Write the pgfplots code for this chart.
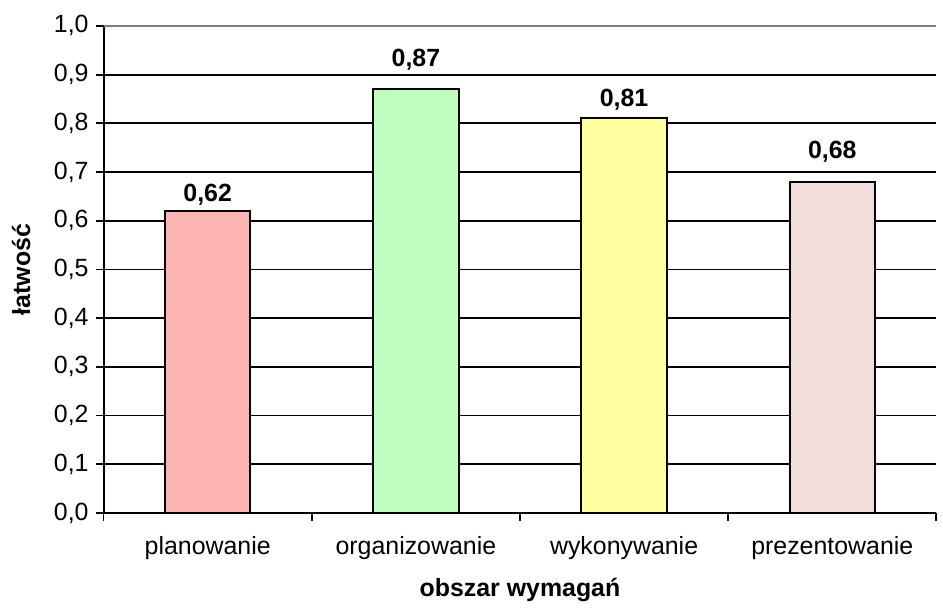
\documentclass[border=0pt]{standalone}
\usepackage{pgfplots}
\pgfplotsset{compat=1.18}
\usepackage{fontspec}
\setmainfont{Liberation Sans}
\definecolor{c1}{RGB}{255,180,180}
\definecolor{c2}{RGB}{190,255,190}
\definecolor{c3}{RGB}{255,255,160}
\definecolor{c4}{RGB}{242,220,220}
\begin{document}
\begin{tikzpicture}
\begin{axis}[
  scale only axis,
  width=418pt, height=244.5pt,
  xmin=-0.5, xmax=3.5, ymin=0, ymax=1.0,
  axis lines=left,
  axis line style={-, line width=1pt, black},
  ytick={0,0.1,...,1.01},
  yticklabel style={/pgf/number format/use comma, /pgf/number format/fixed, /pgf/number format/fixed zerofill, /pgf/number format/precision=1},
  /pgf/number format/assume math mode=true,
  ymajorgrids,
  grid style={black, line width=0.9pt},
  tick align=outside,
  major tick length=4pt,
  tick style={black, line width=0.9pt},
  xtick={-0.5,0.5,1.5,2.5,3.5},
  xticklabels={},
  extra x ticks={0,1,2,3},
  extra x tick labels={planowanie,organizowanie,wykonywanie,prezentowanie},
  extra x tick style={major tick length=0pt, grid=none, xticklabel style={yshift=-8pt}},
  ticklabel style={font=\fontsize{12.5}{14}\selectfont},
  xlabel={obszar wymagań},
  ylabel={łatwość},
  label style={font=\fontsize{12.5}{14}\selectfont\bfseries},
  xlabel style={yshift=1.5pt},
  ylabel style={yshift=5pt},
  ybar, bar width=0.41,
  nodes near coords,
  nodes near coords style={/pgf/number format/use comma, /pgf/number format/fixed, /pgf/number format/fixed zerofill, /pgf/number format/precision=2, /pgf/number format/assume math mode=true, font=\fontsize{12.5}{14}\selectfont\bfseries},
  clip=false,
]
\addplot[fill=c1, draw=black, line width=1pt, bar shift=0pt, every node near coord/.append style={yshift=-1pt}] coordinates {(0,0.62)};
\addplot[fill=c2, draw=black, line width=1pt, bar shift=0pt, every node near coord/.append style={yshift=5.5pt}] coordinates {(1,0.87)};
\addplot[fill=c3, draw=black, line width=1pt, bar shift=0pt, every node near coord/.append style={yshift=0pt}] coordinates {(2,0.81)};
\addplot[fill=c4, draw=black, line width=1pt, bar shift=0pt, every node near coord/.append style={yshift=6pt}] coordinates {(3,0.68)};
\draw[gray, line width=1pt] (axis cs:-0.5,1) -- (axis cs:3.5,1);
\path (rel axis cs:0,0) ++(-52pt,-47pt);
\path (rel axis cs:1,1) ++(1.5pt,13pt);
\end{axis}
\end{tikzpicture}
\end{document}
